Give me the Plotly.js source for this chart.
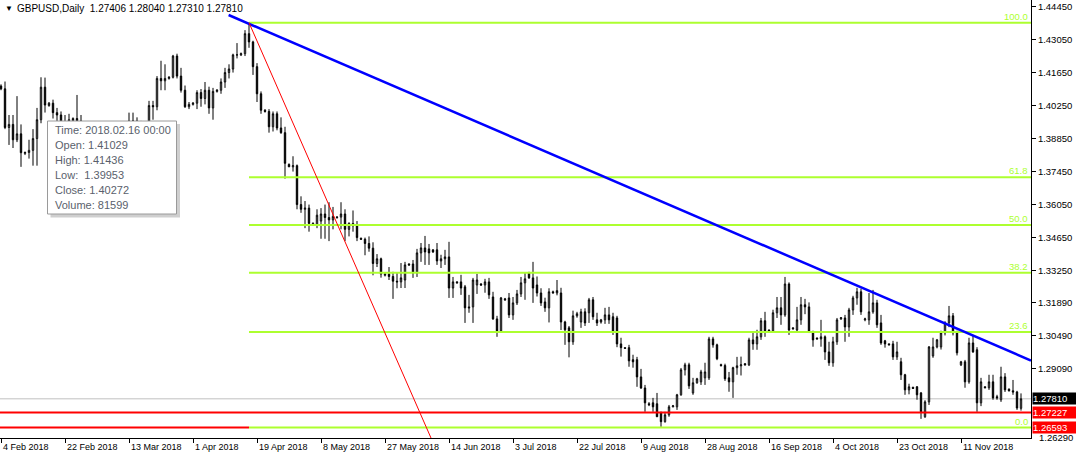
<!DOCTYPE html>
<html><head><meta charset="utf-8">
<script src="https://cdn.plot.ly/plotly-3.0.1.min.js"></script>
<style>html,body{margin:0;padding:0;background:#fff}#chart{width:1076px;height:454px}</style>
</head><body><div id="chart"></div>
<script>
// ---- DATA (GBPUSD Daily, one bar per trading day incl. Sunday bars) ----
const open = [
1.4108,1.4096,1.3932,1.3945,1.3880,1.3905,1.3822,1.3826,
1.3835,1.3885,1.3965,1.41029,1.4025,1.4035,1.3995,1.3985,
1.3905,1.3955,1.3960,1.3970,1.3960,1.3890,1.3760,1.3790,
1.3775,1.3785,1.3880,1.3905,1.3890,1.3830,1.3840,1.3845,
1.3905,1.3960,1.3960,1.3915,1.3935,1.3940,1.4025,1.4020,
1.4140,1.4130,1.4140,1.4145,1.4235,1.4150,1.4090,1.4020,
1.4030,1.4035,1.4080,1.4055,1.4090,1.4015,1.4085,1.4090,
1.4125,1.4165,1.4180,1.4240,1.4240,1.4245,1.4330,1.4295,
1.4190,1.4075,1.4005,1.4000,1.3935,1.3990,1.3930,1.3910,
1.3775,1.3765,1.3770,1.3605,1.3585,1.3590,1.3525,1.3520,
1.3535,1.3565,1.3550,1.3540,1.3550,1.3552,1.3565,1.3500,
1.3525,1.3515,1.3462,1.3458,1.3440,1.3420,1.3355,1.3375,
1.3305,1.3310,1.3300,1.3280,1.3277,1.3285,1.3353,1.3353,
1.3315,1.3400,1.3421,1.3417,1.3413,1.3413,1.3366,1.3375,
1.3383,1.3251,1.3277,1.3277,1.3256,1.3171,1.3171,1.3264,
1.3268,1.3264,1.3277,1.3213,1.3120,1.3069,1.3205,1.3209,
1.3137,1.3188,1.3226,1.3273,1.3315,1.3294,1.3264,1.3230,
1.3192,1.3167,1.3235,1.3230,1.3230,1.3107,1.3082,1.3023,
1.3133,1.3107,1.3150,1.3146,1.3201,1.3116,1.3107,1.3116,
1.3137,1.3129,1.3124,1.3014,1.2998,1.2998,1.2947,1.2947,
1.2874,1.2827,1.2760,1.2764,1.2760,1.2722,1.2684,1.2713,
1.2747,1.2747,1.2798,1.2904,1.2925,1.2806,1.2849,1.2853,
1.2870,1.2870,1.3035,1.3010,1.2926,1.2922,1.2870,1.2853,
1.2913,1.2921,1.2930,1.2925,1.3031,1.3014,1.3044,1.3112,
1.3073,1.3069,1.3146,1.3167,1.3137,1.3268,1.3082,1.3073,
1.3116,1.3180,1.3171,1.3065,1.3039,1.3035,1.3044,1.2980,
1.2934,1.3023,1.3120,1.3124,1.3086,1.3158,1.3209,1.3235,
1.3116,1.3116,1.3150,1.3188,1.3103,1.3027,1.3014,1.3014,
1.2959,1.2938,1.2883,1.2819,1.2830,1.2832,1.2806,1.2705,
1.2768,1.2963,1.3001,1.3001,1.3061,1.3103,1.3133,1.3061,
1.2925,1.2938,1.2853,1.3018,1.2989,1.2764,1.2832,1.2828,
1.2853,1.2790,1.2777,1.2874,1.2822,1.2815,1.2810,1.27406];
const high = [
1.4115,1.4127,1.3985,1.3985,1.4065,1.3945,1.3830,1.3880,
1.3925,1.4015,1.4145,1.41436,1.4040,1.4050,1.4015,1.4000,
1.3985,1.3990,1.3975,1.4070,1.3985,1.3915,1.3795,1.3815,
1.3790,1.3895,1.3950,1.3935,1.3915,1.3900,1.3850,1.3915,
1.3995,1.3995,1.3975,1.3960,1.3945,1.4045,1.4045,1.4150,
1.4215,1.4200,1.4150,1.4240,1.4245,1.4185,1.4110,1.4040,
1.4040,1.4090,1.4095,1.4125,1.4105,1.4100,1.4095,1.4140,
1.4185,1.4200,1.4245,1.4290,1.4250,1.4345,1.43765,1.4300,
1.4205,1.4085,1.4010,1.4010,1.4000,1.4000,1.3975,1.3935,
1.3780,1.3810,1.3775,1.3640,1.3620,1.3605,1.3530,1.3585,
1.3590,1.3605,1.3615,1.3595,1.3555,1.3615,1.3585,1.3530,
1.3580,1.3535,1.3465,1.3465,1.3470,1.3445,1.3395,1.3380,
1.3315,1.3340,1.3320,1.3315,1.3357,1.3362,1.3356,1.3370,
1.3417,1.3442,1.3472,1.3438,1.3415,1.3442,1.3392,1.3413,
1.3447,1.3298,1.3280,1.3307,1.3264,1.3222,1.3294,1.3311,
1.3272,1.3290,1.3294,1.3235,1.3133,1.3213,1.3209,1.3230,
1.3213,1.3243,1.3298,1.3315,1.3320,1.3362,1.3300,1.3250,
1.3210,1.3250,1.3240,1.3285,1.3252,1.3112,1.3090,1.3155,
1.3150,1.3163,1.3165,1.3209,1.3213,1.3146,1.3120,1.3167,
1.3171,1.3146,1.3133,1.3040,1.3000,1.3010,1.2968,1.2959,
1.2908,1.2840,1.2767,1.2785,1.2806,1.2727,1.2726,1.2755,
1.2755,1.2802,1.2912,1.2934,1.2934,1.2870,1.2870,1.2904,
1.2934,1.3044,1.3044,1.3015,1.2930,1.2930,1.2895,1.2917,
1.2959,1.2960,1.2932,1.3040,1.3065,1.3074,1.3124,1.3150,
1.3075,1.3159,1.3213,1.3213,1.3298,1.3275,1.3084,1.3171,
1.3213,1.3205,1.3190,1.3070,1.3041,1.3116,1.3050,1.3023,
1.3044,1.3124,1.3128,1.3137,1.3167,1.3218,1.3252,1.3248,
1.3125,1.3230,1.3243,1.3201,1.3137,1.3031,1.3016,1.3027,
1.3023,1.2955,1.2887,1.2845,1.2832,1.2835,1.2810,1.2775,
1.3005,1.3040,1.3035,1.3070,1.3110,1.3175,1.3145,1.3070,
1.2942,1.2946,1.3040,1.3052,1.3000,1.2870,1.2834,1.2883,
1.2883,1.2798,1.2917,1.2890,1.2825,1.2861,1.2815,1.28040];
const low = [
1.4090,1.3925,1.3858,1.3845,1.3870,1.3765,1.3815,1.3800,
1.3770,1.3770,1.3950,1.39953,1.4020,1.3970,1.3935,1.3890,
1.3875,1.3925,1.3955,1.3935,1.3875,1.3750,1.3712,1.3730,
1.3770,1.3770,1.3860,1.3860,1.3790,1.3805,1.3835,1.3815,
1.3865,1.3940,1.3905,1.3900,1.3930,1.3920,1.3965,1.4005,
1.4090,1.4090,1.4135,1.4140,1.4140,1.4080,1.4015,1.4010,
1.4025,1.4010,1.4020,1.4030,1.3990,1.3965,1.4080,1.4075,
1.4100,1.4140,1.4165,1.4225,1.4235,1.4235,1.4270,1.4155,
1.4040,1.3990,1.3995,1.3910,1.3915,1.3920,1.3905,1.3715,
1.3765,1.3745,1.3585,1.3570,1.3505,1.3490,1.3515,1.3505,
1.3460,1.3460,1.3450,1.3500,1.3545,1.3500,1.3450,1.3470,
1.3490,1.3450,1.3455,1.3390,1.3405,1.3305,1.3340,1.3295,
1.3300,1.3285,1.3205,1.3250,1.3251,1.3251,1.3345,1.3294,
1.3298,1.3362,1.3349,1.3349,1.3400,1.3349,1.3336,1.3349,
1.3209,1.3209,1.3270,1.3222,1.3103,1.3146,1.3103,1.3226,
1.3260,1.3231,1.3205,1.3116,1.3044,1.3061,1.3197,1.3124,
1.3116,1.3179,1.3213,1.3201,1.3290,1.3188,1.3215,1.3175,
1.3150,1.3105,1.3228,1.3220,1.3073,1.3010,1.2957,1.3010,
1.3125,1.3082,1.3090,1.3103,1.3116,1.3090,1.3100,1.3099,
1.3099,1.3052,1.3000,1.2960,1.2994,1.2917,1.2913,1.2832,
1.2823,1.2726,1.2750,1.2726,1.2705,1.2662,1.2680,1.2705,
1.2745,1.2734,1.2794,1.2880,1.2823,1.2798,1.2845,1.2840,
1.2840,1.2861,1.2998,1.2945,1.2918,1.2857,1.2811,1.2785,
1.2883,1.2880,1.2922,1.2920,1.2989,1.2989,1.3031,1.3044,
1.3066,1.3061,1.3124,1.3095,1.3129,1.3052,1.3075,1.3065,
1.3095,1.3140,1.3060,1.3002,1.3033,1.3002,1.2946,1.2921,
1.2917,1.3010,1.3116,1.3023,1.3044,1.3137,1.3180,1.3137,
1.3110,1.3095,1.3142,1.3082,1.3010,1.2998,1.3008,1.2946,
1.2946,1.2861,1.2798,1.2800,1.2823,1.2777,1.2696,1.2700,
1.2755,1.2955,1.2995,1.2990,1.3050,1.3085,1.3050,1.2965,
1.2920,1.2828,1.2845,1.2976,1.2726,1.2750,1.2826,1.2819,
1.2777,1.2777,1.2768,1.2810,1.2812,1.2798,1.2734,1.27310];
const close = [
1.4096,1.3932,1.3945,1.3880,1.3905,1.3825,1.3826,1.3835,
1.3885,1.3965,1.4103,1.40272,1.4035,1.3995,1.3985,1.3905,
1.3955,1.3965,1.3970,1.3960,1.3890,1.3760,1.3790,1.3800,
1.3785,1.3880,1.3905,1.3890,1.3830,1.3850,1.3845,1.3905,
1.3960,1.3960,1.3915,1.3935,1.3940,1.4025,1.4020,1.4140,
1.4130,1.4140,1.4145,1.4235,1.4150,1.4090,1.4020,1.4030,
1.4035,1.4080,1.4055,1.4090,1.4015,1.4085,1.4090,1.4125,
1.4165,1.4180,1.4240,1.4240,1.4245,1.4330,1.4295,1.4190,
1.4075,1.4005,1.4000,1.3935,1.3990,1.3930,1.3910,1.3780,
1.3765,1.3770,1.3605,1.3585,1.3590,1.3525,1.3520,1.3560,
1.3565,1.3550,1.3540,1.3555,1.3552,1.3565,1.3500,1.3525,
1.3515,1.3465,1.3458,1.3440,1.3420,1.3355,1.3375,1.3310,
1.3310,1.3300,1.3280,1.3277,1.3294,1.3349,1.3349,1.3315,
1.3400,1.3421,1.3404,1.3400,1.3404,1.3366,1.3375,1.3383,
1.3251,1.3277,1.3273,1.3251,1.3167,1.3167,1.3285,1.3285,
1.3264,1.3277,1.3222,1.3120,1.3069,1.3209,1.3201,1.3137,
1.3188,1.3226,1.3273,1.3290,1.3294,1.3251,1.3230,1.3188,
1.3167,1.3235,1.3230,1.3240,1.3107,1.3074,1.3023,1.3133,
1.3142,1.3150,1.3103,1.3201,1.3129,1.3103,1.3116,1.3137,
1.3116,1.3065,1.3014,1.2998,1.2995,1.2942,1.2938,1.2874,
1.2827,1.2764,1.2756,1.2747,1.2705,1.2684,1.2713,1.2747,
1.2751,1.2798,1.2904,1.2925,1.2836,1.2849,1.2866,1.2895,
1.2895,1.3035,1.3010,1.2951,1.2922,1.2866,1.2853,1.2913,
1.2921,1.2925,1.2925,1.3031,1.3014,1.3044,1.3112,1.3069,
1.3069,1.3146,1.3167,1.3137,1.3268,1.3073,1.3078,1.3116,
1.3180,1.3171,1.3065,1.3031,1.3035,1.3044,1.2980,1.2934,
1.3023,1.3116,1.3125,1.3086,1.3158,1.3209,1.3235,1.3150,
1.3120,1.3150,1.3188,1.3095,1.3018,1.3014,1.3010,1.2959,
1.2980,1.2883,1.2819,1.2832,1.2825,1.2798,1.2726,1.2768,
1.3001,1.3001,1.3031,1.3061,1.3103,1.3133,1.3061,1.2976,
1.2938,1.2853,1.3018,1.2980,1.2764,1.2853,1.2828,1.2853,
1.2785,1.2785,1.2874,1.2819,1.2815,1.2810,1.2742,1.27810];

// time axis labels (bar index where each label sits)
const dateTickIdx = [0,16,32,48,64,80,96,112,128,144,160,176,192,208,224,240];
const dateTickText = ['4 Feb 2018','22 Feb 2018','13 Mar 2018','1 Apr 2018','19 Apr 2018','8 May 2018','27 May 2018','14 Jun 2018','3 Jul 2018','22 Jul 2018','9 Aug 2018','28 Aug 2018','16 Sep 2018','4 Oct 2018','23 Oct 2018','11 Nov 2018'];
// price axis labels
const priceTicks = [1.44450,1.43050,1.41650,1.40250,1.38850,1.37450,1.36050,1.34650,1.33250,1.31890,1.30490,1.29090];
const priceTickText = ['1.44450','1.43050','1.41650','1.40250','1.38850','1.37450','1.36050','1.34650','1.33250','1.31890','1.30490','1.29090'];
const bottomPriceLabel = '1.26290';

// Fibonacci retracement (from Apr 17 high to low)
const fibStartIdx = 62;
const fibHigh = 1.43765, fibLow = 1.26593;
const fibRatios = [1.0, 0.618, 0.5, 0.382, 0.236, 0.0];
const fibLabels = ['100.0','61.8','50.0','38.2','23.6','0.0'];
// horizontal price lines
const supportLine = 1.27227;
const lowLine = 1.26593;
const bidPrice = 1.27810;
// trend lines
const blueTrendX = [56.9, 257.5], blueTrendY = [1.44092, 1.29435];
const redTrendX = [62, 107.5], redTrendY = [1.43765, 1.26148];

// header & tooltip text
const header = 'GBPUSD,Daily\u00a0\u00a01.27406 1.28040 1.27310 1.27810';
const tipLines = ['Time: 2018.02.16 00:00','Open: 1.41029','High: 1.41436','Low:\u00a0 1.39953','Close: 1.40272','Volume: 81599'];

// ---- CHART ----
const idx = close.map((_, i) => i);
const PW = 1031, PH = 438;              // plot area size in px
const px = x => x / PW, py = y => 1 - y / PH;
const xMin = -0.25, xMax = 257.5;
const F = 'Liberation Sans, Arial, sans-serif';

const trace = {
  type: 'candlestick', x: idx, open: open, high: high, low: low, close: close,
  increasing: {line: {color: '#000', width: 1}, fillcolor: '#fff'},
  decreasing: {line: {color: '#000', width: 1}, fillcolor: '#000'},
  whiskerwidth: 0, hoverinfo: 'skip', showlegend: false
};

const shapes = [];
shapes.push({type:'line', layer:'below', xref:'x', yref:'y', x0:xMin, x1:xMax, y0:bidPrice, y1:bidPrice, line:{color:'#c0c0c0', width:1}});
shapes.push({type:'line', xref:'x', yref:'y', x0:xMin, x1:fibStartIdx, y0:lowLine, y1:lowLine, line:{color:'#ff0000', width:2}});
shapes.push({type:'line', xref:'x', yref:'y', x0:xMin, x1:xMax, y0:supportLine, y1:supportLine, line:{color:'#ff0000', width:2}});
const fibPrices = fibRatios.map(r => fibLow + r * (fibHigh - fibLow));
fibPrices.forEach(p => shapes.push({type:'line', xref:'x', yref:'y', x0:fibStartIdx, x1:xMax, y0:p, y1:p, line:{color:'#adff2f', width:2}}));
shapes.push({type:'line', xref:'x', yref:'y', x0:blueTrendX[0], x1:blueTrendX[1], y0:blueTrendY[0], y1:blueTrendY[1], line:{color:'#0000ff', width:2.5}});
shapes.push({type:'line', xref:'x', yref:'y', x0:redTrendX[0], x1:redTrendX[1], y0:redTrendY[0], y1:redTrendY[1], line:{color:'#ff0000', width:1}});
// tooltip box with shadow
shapes.push({type:'rect', xref:'paper', yref:'paper', x0:px(50.5), x1:px(180), y0:py(124), y1:py(217.5), fillcolor:'#cfcfcf', line:{width:0}});
shapes.push({type:'rect', xref:'paper', yref:'paper', x0:px(47.5), x1:px(176.5), y0:py(121), y1:py(214), fillcolor:'#ffffff', line:{color:'#9a9a9a', width:1}});

const annotations = [];
annotations.push({xref:'paper', yref:'paper', x:px(3), y:py(9), xanchor:'left', yanchor:'middle', text:'\u25BC', showarrow:false, font:{family:F, size:8, color:'#000'}});
annotations.push({xref:'paper', yref:'paper', x:px(15), y:py(9), xanchor:'left', yanchor:'middle', text:header, showarrow:false, font:{family:F, size:10, color:'#000'}});
dateTickIdx.forEach((t, i) => annotations.push({xref:'x', yref:'paper', x:t, y:py(447), xanchor:'left', yanchor:'middle', text:dateTickText[i], showarrow:false, font:{family:F, size:9, color:'#000'}}));
fibPrices.forEach((p, i) => annotations.push({xref:'paper', yref:'y', x:px(1030), y:p, xanchor:'right', yanchor:'bottom', yshift:-1, text:fibLabels[i], showarrow:false, font:{family:F, size:9.5, color:'#adff2f'}}));
// bottom axis label partly hidden behind the red price box (drawn first)
annotations.push({xref:'paper', yref:'paper', x:px(1037), y:py(437.5), xanchor:'left', yanchor:'middle', text:bottomPriceLabel, showarrow:false, font:{family:F, size:9.5, color:'#000'}});
const boxes = [[bidPrice,'#000000'],[supportLine,'#ff0000'],[lowLine,'#ff0000']];
boxes.forEach(b => annotations.push({xref:'paper', yref:'y', x:px(1032), y:b[0], xanchor:'left', yanchor:'middle', text:b[0].toFixed(5), showarrow:false, bgcolor:b[1], width:44, height:11, align:'left', borderpad:0, font:{family:F, size:9.5, color:'#fff'}}));
tipLines.forEach((t, i) => annotations.push({xref:'paper', yref:'paper', x:px(53), y:py(130 + i * 14.9), xanchor:'left', yanchor:'middle', text:t, showarrow:false, font:{family:F, size:11, color:'#5a5f6c'}}));

const layout = {
  width: 1076, height: 454,
  margin: {l:0, r:45, t:0, b:16, pad:0},
  paper_bgcolor:'#fff', plot_bgcolor:'#fff',
  showlegend:false, hovermode:false, boxgap:0.5,
  xaxis: {range:[xMin, xMax], rangeslider:{visible:false}, showgrid:false, zeroline:false,
          showline:true, linecolor:'#000', linewidth:1, ticks:'outside', ticklen:4, tickcolor:'#000',
          tickmode:'array', tickvals:dateTickIdx, showticklabels:false, fixedrange:true},
  yaxis: {range:[1.26148, 1.44728], side:'right', showgrid:false, zeroline:false,
          showline:true, linecolor:'#000', linewidth:1, ticks:'outside', ticklen:4, tickcolor:'#000',
          tickmode:'array', tickvals:priceTicks, ticktext:priceTickText,
          tickfont:{family:F, size:9.5, color:'#000'}, fixedrange:true},
  shapes: shapes, annotations: annotations
};
Plotly.newPlot('chart', [trace], layout, {staticPlot:true, displayModeBar:false});
</script></body></html>
